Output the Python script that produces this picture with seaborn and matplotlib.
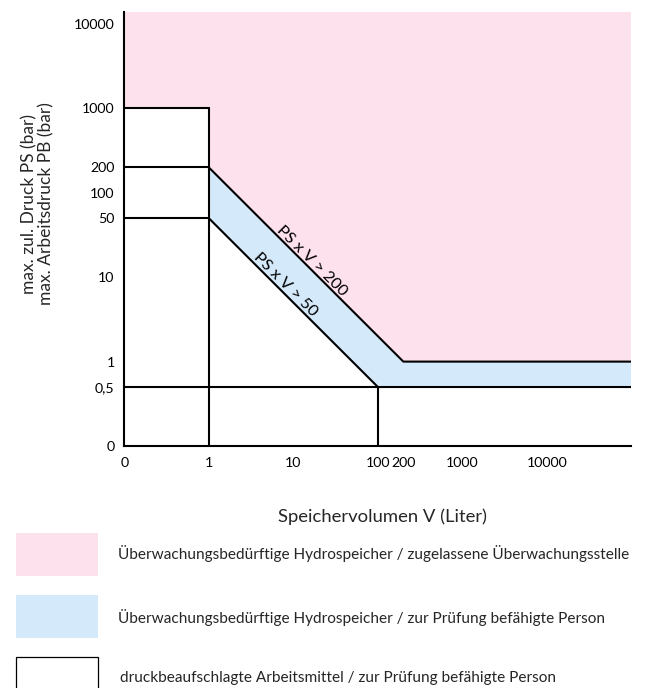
import math
import matplotlib
matplotlib.use("Agg")
import matplotlib.pyplot as plt
from matplotlib.patches import Rectangle
from matplotlib.ticker import NullLocator
import seaborn as sns

# --- data ---
# the "0" label sits one decade below 1 on both log axes
zero_pos = 0.1
v_ticks = [0, 1, 10, 100, 200, 1000, 10000]
v_labels = ["0", "1", "10", "100", "200", "1000", "10000"]
p_ticks = [0, 0.5, 1, 10, 50, 100, 200, 1000, 10000]
p_labels = ["0", "0,5", "1", "10", "50", "100", "200", "1000", "10000"]
v_max = 100000
p_max = 14000

# boundary PS x V > 200 (corner points V, PS)
upper_v = [1, 200, v_max]
upper_p = [200, 1, 1]
# boundary PS x V > 50
lower_v = [1, 100, v_max]
lower_p = [50, 0.5, 0.5]
# horizontal levels of the small-volume box (V <= 1)
box_levels = [1000, 200, 50]

legend_labels = [
    "Überwachungsbedürftige Hydrospeicher / zugelassene Überwachungsstelle",
    "Überwachungsbedürftige Hydrospeicher / zur Prüfung befähigte Person",
    "druckbeaufschlagte Arbeitsmittel / zur Prüfung befähigte Person",
]

PINK = "#fde1ec"
BLUE = "#d4e9f9"
LW = 1.5


def pos(vals):
    return [zero_pos if v == 0 else v for v in vals]


sns.set_style("white")
plt.rcParams["font.family"] = ["Lato", "DejaVu Sans"]

fig = plt.figure(figsize=(6.47, 6.88), dpi=100)
ax = fig.add_axes([124.3 / 647, 1 - 446 / 688, 507.2 / 647, 434.3 / 688])
ax.set_xscale("log")
ax.set_yscale("log")
ax.set_xlim(zero_pos, v_max)
ax.set_ylim(zero_pos, p_max)

# --- filled areas ---
pink_x = pos([0, 1]) + upper_v + [v_max, 0]
pink_y = [box_levels[0], box_levels[0]] + upper_p + [p_max, p_max]
pink_x = pos(pink_x)
ax.fill(pink_x, pink_y, color=PINK, lw=0, zorder=1)

blue_x = upper_v + lower_v[::-1]
blue_y = upper_p + lower_p[::-1]
ax.fill(blue_x, blue_y, color=BLUE, lw=0, zorder=1)

# --- boundary lines ---
line_kw = dict(color="black", lw=LW, sort=False, estimator=None, ax=ax, zorder=3)
for lvl in box_levels:
    sns.lineplot(x=pos([0, 1]), y=[lvl, lvl], **line_kw)
sns.lineplot(x=[1, 1], y=pos([0, box_levels[0]]), **line_kw)
sns.lineplot(x=pos([0, lower_v[1]]), y=[lower_p[1], lower_p[1]], **line_kw)
sns.lineplot(x=[lower_v[1], lower_v[1]], y=pos([0, lower_p[1]]), **line_kw)
sns.lineplot(x=upper_v, y=upper_p, **line_kw)
sns.lineplot(x=lower_v, y=lower_p, **line_kw)

# --- axes styling ---
ax.set_xticks(pos(v_ticks), v_labels)
ax.set_yticks(pos(p_ticks), p_labels)
ax.xaxis.set_minor_locator(NullLocator())
ax.yaxis.set_minor_locator(NullLocator())
ax.tick_params(axis="both", which="major", length=5, width=LW, labelsize=10.2,
               color="black", labelcolor="black", direction="out")
ax.tick_params(axis="y", pad=2)
ax.tick_params(axis="x", pad=3)
for side in ["top", "right"]:
    ax.spines[side].set_visible(False)
for side in ["left", "bottom"]:
    ax.spines[side].set_color("black")
    ax.spines[side].set_linewidth(LW)
    ax.spines[side].set_zorder(4)
ax.set_facecolor("white")

# --- labels along the diagonals ---
def diag_label(text, v0, v1, p_prod, v_at):
    a = ax.transData.transform((v0, p_prod / v0))
    b = ax.transData.transform((v1, p_prod / v1))
    ang = math.degrees(math.atan2(b[1] - a[1], b[0] - a[0]))
    nx, ny = -math.sin(math.radians(ang)), math.cos(math.radians(ang))
    ax.annotate(text, (v_at, p_prod / v_at), xytext=(2.0 * nx, 2.0 * ny),
                textcoords="offset points", rotation=ang, rotation_mode="anchor",
                ha="center", va="baseline", fontsize=11.8, color="black", zorder=5)


diag_label("PS x V > 200", upper_v[0], upper_v[1], upper_p[0] * upper_v[0], 14.6)
diag_label("PS x V > 50", lower_v[0], lower_v[1], lower_p[0] * lower_v[0], 7.0)

# --- axis titles ---
fig.text(383 / 647, 1 - 517 / 688, "Speichervolumen V (Liter)", ha="center",
         va="center", fontsize=13.3)
fig.text(38 / 647, 1 - 204 / 688,
         "max. zul. Druck PS (bar)\nmax. Arbeitsdruck PB (bar)",
         ha="center", va="center", rotation=90, fontsize=12.5,
         multialignment="center", linespacing=1.05)

# --- legend boxes ---
box_x, box_w = 16 / 647, 82 / 647
boxes = [
    (533.3, 575.7, PINK, "none"),
    (595.3, 637.7, BLUE, "none"),
    (657.3, 700.0, "white", "black"),
]
text_x = [118, 118, 120]
text_y = [554, 617, 678]
for (top, bot, fc, ec), lbl, tx, ty in zip(boxes, legend_labels, text_x, text_y):
    fig.add_artist(Rectangle((box_x, 1 - bot / 688), box_w, (bot - top) / 688,
                             transform=fig.transFigure, facecolor=fc,
                             edgecolor=ec, lw=0.9))
    fig.text(tx / 647, 1 - ty / 688, lbl, ha="left", va="center", fontsize=11.1)

fig.savefig("out.png", dpi=100)
